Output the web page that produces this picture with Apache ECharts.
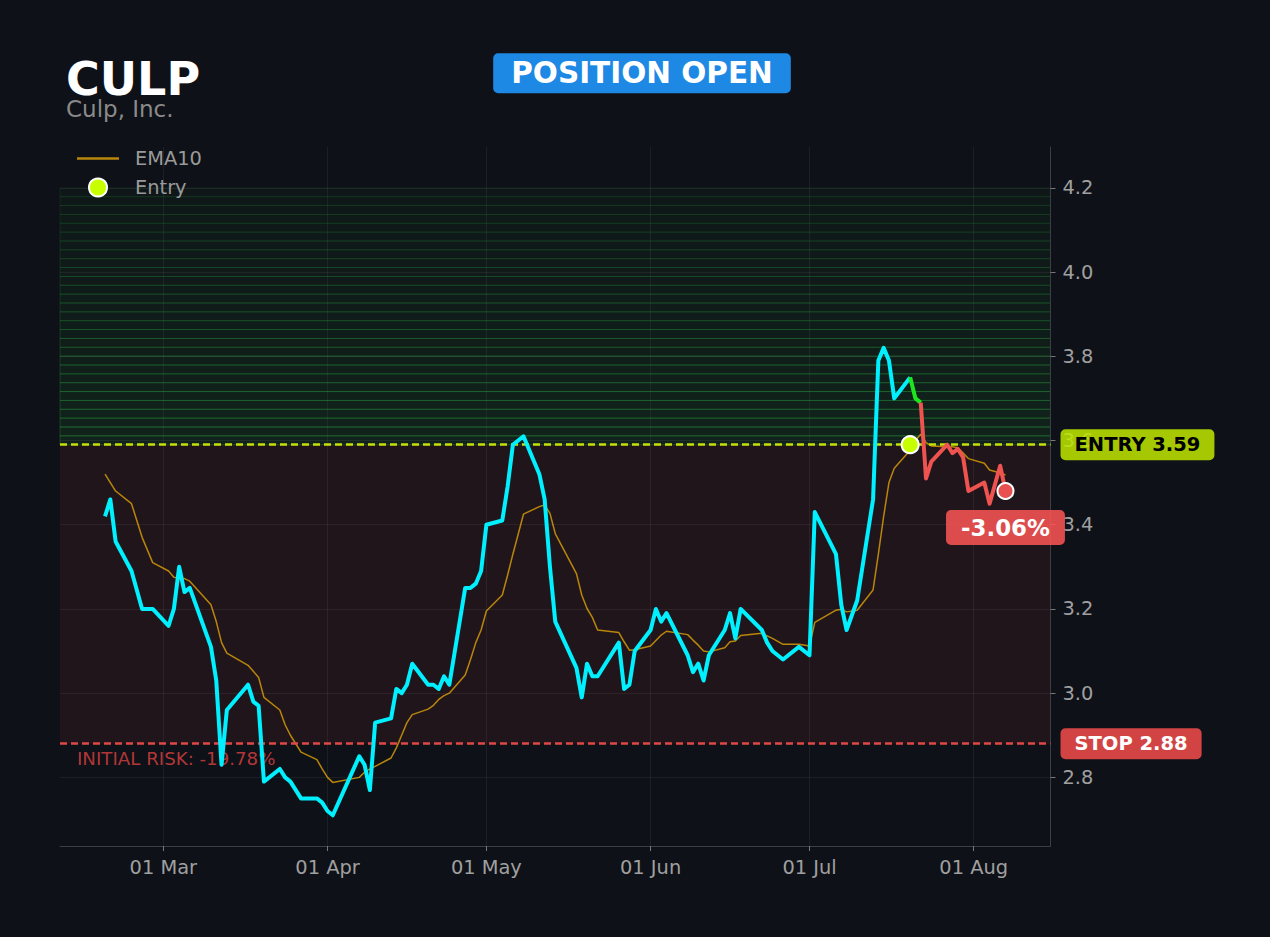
<!DOCTYPE html>
<html>
<head>
<meta charset="utf-8">
<script src="https://cdn.jsdelivr.net/npm/echarts@6/dist/echarts.min.js"></script>
<style>
html,body{margin:0;padding:0;background:#0e1117;}
#chart{width:1270px;height:937px;}
</style>
</head>
<body>
<div id="chart"></div>
<script>
// ---- data ----
const ticker = 'CULP';
const company = 'Culp, Inc.';
const status = 'POSITION OPEN';

const dates = [
'2025-02-18','2025-02-19','2025-02-20','2025-02-23','2025-02-25','2025-02-27',
'2025-03-02','2025-03-03','2025-03-04','2025-03-05','2025-03-06','2025-03-10','2025-03-11','2025-03-12','2025-03-13',
'2025-03-17','2025-03-18','2025-03-19','2025-03-20','2025-03-23','2025-03-24','2025-03-25','2025-03-27','2025-03-30','2025-03-31',
'2025-04-01','2025-04-02','2025-04-07','2025-04-08','2025-04-09','2025-04-10','2025-04-13','2025-04-14','2025-04-15','2025-04-16',
'2025-04-17','2025-04-20','2025-04-21','2025-04-22','2025-04-23','2025-04-24','2025-04-27','2025-04-28','2025-04-29','2025-04-30',
'2025-05-01','2025-05-04','2025-05-05','2025-05-06','2025-05-08','2025-05-11','2025-05-12','2025-05-13','2025-05-14','2025-05-18',
'2025-05-19','2025-05-20','2025-05-21','2025-05-22','2025-05-26','2025-05-27','2025-05-28','2025-05-29',
'2025-06-01','2025-06-02','2025-06-03','2025-06-04','2025-06-08','2025-06-09','2025-06-10','2025-06-11','2025-06-12','2025-06-15',
'2025-06-16','2025-06-17','2025-06-18','2025-06-22','2025-06-23','2025-06-24','2025-06-26','2025-06-29',
'2025-07-01','2025-07-02','2025-07-06','2025-07-07','2025-07-08','2025-07-10','2025-07-13','2025-07-14','2025-07-15','2025-07-16',
'2025-07-17','2025-07-20','2025-07-21','2025-07-22','2025-07-23','2025-07-24','2025-07-27','2025-07-28','2025-07-29','2025-07-30',
'2025-07-31','2025-08-03','2025-08-04','2025-08-06','2025-08-07'
];

const closes = [
3.42,3.46,3.36,3.29,3.20,3.20,
3.16,3.20,3.30,3.24,3.25,3.11,3.03,2.83,2.96,
3.02,2.98,2.97,2.79,2.82,2.80,2.79,2.75,2.75,2.74,
2.72,2.71,2.85,2.83,2.77,2.93,2.94,3.01,3.00,3.02,
3.07,3.02,3.02,3.01,3.04,3.02,3.25,3.25,3.26,3.29,
3.40,3.41,3.49,3.59,3.61,3.52,3.46,3.30,3.17,3.06,
2.99,3.07,3.04,3.04,3.12,3.01,3.02,3.10,
3.15,3.20,3.17,3.19,3.09,3.05,3.07,3.03,3.09,3.15,
3.19,3.13,3.20,3.15,3.12,3.10,3.08,3.11,
3.09,3.43,3.33,3.21,3.15,3.22,3.46,3.79,3.82,3.79,
3.70,3.75,3.70,3.69,3.51,3.55,3.59,3.57,3.58,3.56,
3.48,3.50,3.45,3.54,3.48
];

const ema10 = [
3.52,3.50,3.48,3.45,3.37,3.31,
3.29,3.275,3.273,3.272,3.266,3.21,3.17,3.12,3.095,
3.066,3.052,3.037,2.99,2.96,2.925,2.90,2.86,2.842,2.82,
2.80,2.788,2.80,2.812,2.82,2.826,2.846,2.87,2.90,2.93,
2.949,2.962,2.971,2.985,2.994,3.00,3.043,3.08,3.12,3.15,
3.195,3.233,3.28,3.33,3.425,3.443,3.447,3.427,3.379,3.284,
3.233,3.201,3.18,3.15,3.144,3.122,3.102,3.103,
3.112,3.125,3.138,3.147,3.139,3.126,3.114,3.10,3.098,3.108,
3.122,3.124,3.137,3.142,3.136,3.13,3.116,3.116,
3.112,3.168,3.197,3.199,3.193,3.197,3.245,3.33,3.42,3.50,
3.534,3.577,3.60,3.615,3.595,3.587,3.585,3.585,3.583,3.57,
3.557,3.546,3.53,3.523,3.518
];

const entryDate = '2025-07-20';
const greenEndDate = '2025-07-22';
const entryPrice = 3.59;
const stopPrice = 2.88;
const targetPrice = 4.2;
const yTickValues = [2.8, 3.0, 3.2, 3.4, 3.6, 3.8, 4.0, 4.2];
const xTickDates = ['2025-03-01','2025-04-01','2025-05-01','2025-06-01','2025-07-01','2025-08-01'];
const monthNames = ['Jan','Feb','Mar','Apr','May','Jun','Jul','Aug','Sep','Oct','Nov','Dec'];
const yMin = 2.637, yMax = 4.297;
const zoneLevels = 30;

// ---- build ----
const FONT = 'DejaVu Sans';
function ts(s){ const p = s.split('-').map(Number); return Date.UTC(p[0], p[1]-1, p[2]); }
const pricePairs = closes.map((v,i)=>[ts(dates[i]), v]);
const emaPairs = ema10.map((v,i)=>[ts(dates[i]), v]);
const entryIdx = dates.indexOf(entryDate);
const greenIdx = dates.indexOf(greenEndDate);
const lastIdx = dates.length - 1;
const span = ts(dates[lastIdx]) - ts(dates[0]);
const xMin = ts(dates[0]) - span*0.05;
const xMax = ts(dates[lastIdx]) + span*0.05;
const xTicks = xTickDates.map(ts);
const pnl = (closes[lastIdx] - entryPrice)/entryPrice*100;
const risk = (stopPrice - entryPrice)/entryPrice*100;

const areas = [[
  {yAxis: stopPrice, itemStyle:{color:'rgba(220,60,80,0.095)', borderWidth:0}},
  {yAxis: entryPrice}
]];
for (let i = 0; i < zoneLevels-1; i++) {
  const lo = entryPrice + (targetPrice-entryPrice)*i/(zoneLevels-1);
  const hi = entryPrice + (targetPrice-entryPrice)*(i+1)/(zoneLevels-1);
  const t = i/(zoneLevels-2);
  const fa = (0.12 - 0.075*t).toFixed(3);
  const ba = (0.30 - 0.19*t).toFixed(3);
  areas.push([
    {yAxis: lo, itemStyle:{color:'rgba(40,160,60,'+fa+')', borderColor:'rgba(50,180,70,'+ba+')', borderWidth:1}},
    {yAxis: hi}
  ]);
}

const chart = echarts.init(document.getElementById('chart'), null, {renderer:'svg'});
chart.setOption({
  backgroundColor: '#0e1117',
  animation: false,
  textStyle: {fontFamily: FONT},
  grid: {left: 60, right: 219.5, top: 147, bottom: 91, containLabel: false},
  graphic: [
    {type:'text', x:66, y:79, style:{text:ticker, fill:'#ffffff', fontSize:46, fontWeight:'bold', fontFamily:FONT, align:'left', verticalAlign:'middle', lineHeight:36}},
    {type:'text', x:66, y:109, style:{text:company, fill:'#8a8a8a', fontSize:23, fontFamily:FONT, align:'left', verticalAlign:'middle', lineHeight:20}},
    {type:'text', x:642, y:73.3, style:{text:status, fill:'#ffffff', fontSize:29.5, fontWeight:'bold', fontFamily:FONT, align:'center', verticalAlign:'middle', lineHeight:32, backgroundColor:'#1e88e5', padding:[4,18,4,18], borderRadius:5}}
  ],
  legend: {
    data: [
      {name:'EMA10', icon:'path://M0,0H42V2.5H0Z'},
      {name:'Entry', icon:'circle'}
    ],
    orient: 'vertical', left: 77, top: 149, padding: 0,
    itemWidth: 42, itemHeight: 18, itemGap: 9.5, symbolKeepAspect: true,
    textStyle: {color:'#9a9a9a', fontSize:19.4, fontFamily:FONT, padding:[0,0,0,11]}
  },
  xAxis: {
    type: 'value', min: xMin, max: xMax,
    axisLine: {show:true, lineStyle:{color:'#3a3e45', width:1}},
    axisTick: {show:true, customValues:xTicks, length:5, lineStyle:{color:'#777'}},
    axisLabel: {customValues:xTicks, color:'#a0a0a0', fontSize:19.4, margin:12, fontFamily:FONT,
      formatter: function(v){ const d = new Date(v); return String(d.getUTCDate()).padStart(2,'0') + ' ' + monthNames[d.getUTCMonth()]; }},
    splitLine: {show:true, lineStyle:{color:'rgba(255,255,255,0.06)', width:1}}
  },
  yAxis: {
    type: 'value', position: 'right', min: yMin, max: yMax, z: 3,
    axisLine: {show:true, lineStyle:{color:'#3a3e45', width:1}},
    axisTick: {show:true, customValues:yTickValues, length:5, lineStyle:{color:'#777'}},
    axisLabel: {customValues:yTickValues, color:'#a0a0a0', fontSize:19.4, margin:12, fontFamily:FONT,
      formatter: function(v){ return Number(v).toFixed(1); }},
    splitLine: {show:true, lineStyle:{color:'rgba(255,255,255,0.06)', width:1}}
  },
  series: [
    {
      name: 'EMA10', type: 'line', data: emaPairs, symbol: 'none', z: 2,
      lineStyle: {color:'#b8860b', width:1.5},
      itemStyle: {color:'#b8860b'},
      markArea: {silent:true, data: areas},
      markLine: {
        silent: true, symbol: ['none','none'], animation: false,
        data: [
          {yAxis: entryPrice, lineStyle:{color:'#c6e00a', width:2.5, type:[7,4]},
           label:{show:true, position:'end', distance:10, formatter:'ENTRY ' + entryPrice.toFixed(2),
             backgroundColor:'rgba(190,230,0,0.86)', color:'#000', fontWeight:'bold', fontSize:19.5, fontFamily:FONT,
             padding:[6,14,5,14], borderRadius:5}},
          {yAxis: stopPrice, lineStyle:{color:'#e04848', width:2.5, type:[7,4]},
           label:{show:true, position:'end', distance:10, formatter:'STOP ' + stopPrice.toFixed(2),
             backgroundColor:'rgba(242,77,76,0.86)', color:'#fff', fontWeight:'bold', fontSize:19.5, fontFamily:FONT,
             padding:[6,14,5,14], borderRadius:5}},
          {yAxis: stopPrice, lineStyle:{color:'rgba(0,0,0,0)', width:0.1},
           label:{show:true, position:'insideStartBottom', distance:[17,6], formatter:'INITIAL RISK: ' + risk.toFixed(2) + '%',
             color:'rgba(200,60,60,0.9)', fontSize:18.2, fontFamily:FONT}}
        ]
      }
    },
    {
      name: 'Price', type: 'line', data: pricePairs.slice(0, entryIdx+1), symbol: 'none', z: 5,
      lineStyle: {color:'#00f0ff', width:4, join:'round'}
    },
    {
      name: 'Price', type: 'line', data: pricePairs.slice(entryIdx, greenIdx+1), symbol: 'none', z: 5,
      lineStyle: {color:'#1ee61e', width:4, join:'round'}
    },
    {
      name: 'Price', type: 'line', data: pricePairs.slice(greenIdx), symbol: 'none', z: 5,
      lineStyle: {color:'#ef5350', width:4, join:'round'}
    },
    {
      name: 'Entry', type: 'scatter', z: 7, symbol:'circle', symbolSize: 17,
      data: [[ts(entryDate), entryPrice]],
      itemStyle: {color:'#c8ff00', borderColor:'#ffffff', borderWidth:2, opacity:1}
    },
    {
      name: 'Current', type: 'scatter', z: 8, symbol:'circle', symbolSize: 16,
      data: [pricePairs[lastIdx]],
      itemStyle: {color:'#e85050', borderColor:'#ffffff', borderWidth:2, opacity:1},
      label: {show:true, position:'bottom', distance:10, formatter: (pnl>=0?'+':'') + pnl.toFixed(2) + '%',
        backgroundColor:'rgba(253,85,84,0.86)', color:'#fff', fontWeight:'bold', fontSize:22.9, fontFamily:FONT,
        padding:[6,15,6,15], borderRadius:5}
    }
  ]
});
</script>
</body>
</html>
